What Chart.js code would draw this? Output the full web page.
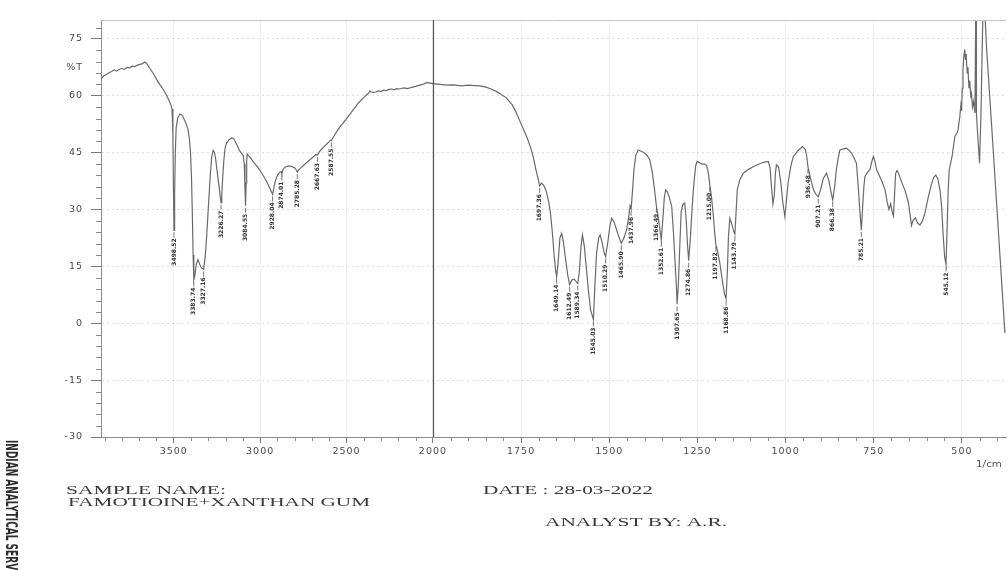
<!DOCTYPE html>
<html>
<head>
<meta charset="utf-8">
<title>FTIR - Famotidine + Xanthan gum</title>
<script src="https://cdn.jsdelivr.net/npm/chart.js@4.4.1/dist/chart.umd.min.js"></script>
<style>
  html, body { margin: 0; padding: 0; background: #ffffff; }
  canvas { display: block; }
</style>
</head>
<body>
<canvas id="ftir" width="1008" height="570"></canvas>
<script>
// Spectrum trace: wavenumber (cm-1) and transmittance (%T), high to low wavenumber
const wavenumber = [
  3921, 3905, 3890, 3875, 3860, 3845, 3830, 3815, 3800, 3785, 3770, 3755, 3740, 3725, 3710, 3695,
  3680, 3668, 3658, 3648, 3635, 3620, 3605, 3590, 3575, 3560, 3545, 3530, 3518, 3510, 3505, 3502,
  3498.52, 3495, 3491, 3486, 3478, 3465, 3452, 3440, 3428, 3418, 3410, 3403, 3397, 3392, 3388,
  3383.74, 3378, 3370, 3360, 3350, 3340, 3327.16, 3318, 3308, 3298, 3288, 3280, 3272, 3265, 3258,
  3250, 3242, 3235, 3230, 3226.27, 3222, 3216, 3210, 3203, 3195, 3180, 3165, 3155, 3145, 3132,
  3120, 3108, 3098, 3092, 3088, 3084.55, 3081, 3078, 3075, 3068, 3055, 3040, 3025, 3010, 2995,
  2980, 2965, 2950, 2940, 2933, 2928.04, 2922, 2915, 2905, 2895, 2884, 2878, 2874.01, 2868, 2858,
  2845, 2830, 2815, 2800, 2792, 2785.28, 2778, 2765, 2750, 2735, 2720, 2705, 2690, 2678, 2667.63,
  2658, 2645, 2630, 2615, 2600, 2593, 2587.55, 2578, 2565, 2550, 2535, 2520, 2500, 2480, 2463,
  2445, 2430, 2415, 2400, 2385, 2372, 2365, 2358, 2345, 2330, 2315, 2300, 2285, 2270, 2255, 2240,
  2225, 2210, 2195, 2180, 2165, 2150, 2133, 2118, 2100, 2085, 2070, 2055, 2040, 2030, 2020, 2010,
  2000, 1980, 1960, 1942, 1920, 1900, 1880, 1867, 1850, 1835, 1819, 1805, 1791, 1775, 1763, 1750,
  1740, 1730, 1722, 1716, 1708, 1701, 1697.36, 1692, 1686, 1679, 1672, 1666, 1661, 1656, 1652,
  1649.14, 1645, 1640, 1635, 1630, 1624, 1618, 1612.49, 1606, 1600, 1594, 1589.34, 1585, 1580,
  1576, 1571, 1565, 1559, 1553, 1545.03, 1541, 1536, 1530, 1526, 1520, 1514, 1510.29, 1504, 1498,
  1493, 1486, 1479, 1472, 1465.90, 1458, 1451, 1445, 1441, 1437.96, 1434, 1430, 1425, 1418, 1408,
  1400, 1392, 1385, 1378, 1372, 1366.49, 1362, 1357, 1352.61, 1348, 1344, 1340, 1335, 1329, 1323,
  1318, 1313, 1309, 1307.65, 1304, 1300, 1296, 1291, 1286, 1282, 1278, 1274.86, 1270, 1265, 1260,
  1255, 1251, 1245, 1238, 1230, 1224, 1219, 1215.00, 1210, 1205, 1201, 1197.82, 1193, 1186, 1179,
  1173, 1168.86, 1165, 1162, 1158, 1152, 1147, 1143.79, 1140, 1137, 1130, 1120, 1105, 1092, 1080,
  1070, 1060, 1049, 1044, 1040, 1036, 1032, 1029, 1026, 1020, 1014, 1008, 1002, 997, 993, 985,
  978, 965, 952, 944, 940, 936.48, 930, 921, 914, 907.21, 900, 893, 884, 877, 871, 866.38, 861,
  856, 851, 846, 836, 827, 820, 813, 806, 799, 794, 789, 785.21, 782, 778, 775, 768, 761, 755,
  751, 746, 742, 737, 733, 725, 718, 712, 707, 702, 698, 694, 691, 688, 684, 680, 672, 662, 652,
  646, 643, 638, 632, 626, 619, 612, 605, 596, 587, 580, 574, 568, 562, 557, 553, 549, 545.12,
  542, 539, 536, 528, 520, 514, 511, 506, 503, 501, 499, 497, 495, 492, 490, 488, 485, 483, 480,
  478, 475, 473, 470, 467, 463, 461, 460, 459, 455, 450, 446, 443, 440, 436, 430, 420, 407, 395, 378
];
const transmittance = [
  64.5, 65.2, 65.6, 66.1, 66.4, 66.8, 66.5, 67.0, 67.2, 67.0, 67.5, 67.4, 67.8, 67.7, 68.1, 68.3,
  68.5, 68.9, 68.6, 67.9, 67.0, 66.0, 64.8, 63.6, 62.6, 61.6, 60.4, 59.0, 57.8, 56.5, 50.0, 36.0,
  24.5, 34.0, 45.0, 51.5, 54.0, 55.2, 54.9, 53.8, 52.6, 51.2, 48.8, 45.0, 38.0, 28.0, 18.0,
  11.5, 12.5, 15.5, 16.8, 15.6, 14.6, 14.2, 17.5, 24.0, 32.0, 39.5, 44.0, 45.6, 45.2, 43.5,
  40.5, 37.5, 35.0, 33.0, 31.8, 34.0, 39.0, 43.0, 46.2, 47.5, 48.4, 48.9, 48.8, 48.0, 46.8,
  45.6, 44.8, 44.3, 42.0, 36.0, 31.0, 37.0, 42.5, 44.6, 44.2, 43.6, 42.6, 41.8, 40.9, 39.9,
  38.8, 37.6, 36.2, 35.2, 34.5, 34.0, 35.3, 37.0, 38.5, 39.4, 39.9, 40.0, 39.5, 40.5, 41.1,
  41.4, 41.5, 41.3, 41.0, 40.5, 39.9, 40.4, 41.0, 41.6, 42.2, 42.8, 43.4, 44.0, 44.5, 44.4,
  45.2, 45.9, 46.6, 47.3, 47.9, 48.3, 48.2, 49.0, 50.0, 51.0, 52.0, 52.8, 54.0, 55.2, 56.2,
  57.3, 58.2, 58.9, 59.6, 60.2, 60.7, 61.3, 61.0, 60.9, 61.0, 61.3, 61.2, 61.5, 61.4, 61.7, 61.8,
  61.6, 61.9, 61.8, 62.0, 62.1, 61.9, 62.1, 62.3, 62.5, 62.7, 62.9, 63.1, 63.4, 63.5, 63.4, 63.3,
  63.2, 63.0, 62.8, 62.9, 62.6, 62.8, 62.7, 62.6, 62.3, 61.8, 61.1, 60.3, 59.4, 57.6, 55.4, 52.6,
  50.5, 48.2, 46.0, 44.0, 40.5, 37.8, 36.2, 37.0, 36.4, 34.9, 32.2, 28.5, 23.5, 17.5, 13.8,
  12.3, 16.0, 22.5, 23.7, 21.5, 17.0, 12.8, 10.2, 11.4, 11.7, 11.0, 10.5, 13.5, 20.5,
  23.3, 20.5, 14.5, 8.5, 3.5, 1.0, 9.5, 18.5, 22.6, 23.3, 21.2, 18.4, 17.6, 21.5, 25.8,
  27.7, 26.6, 24.6, 22.6, 21.1, 22.6, 24.6, 28.0, 31.0, 30.2, 35.0, 40.5, 44.3, 45.7, 45.3,
  44.9, 44.2, 43.1, 39.8, 35.5, 31.0, 28.5, 25.2, 22.0, 27.5, 33.0, 35.2, 34.6, 33.0, 30.8,
  24.0, 15.5, 8.5, 5.0, 10.5, 20.5, 29.5, 31.4, 31.7, 27.5, 20.5, 16.5, 22.5, 30.5, 37.0,
  41.5, 42.7, 42.4, 42.0, 42.0, 41.6, 39.6, 36.5, 33.2, 28.5, 23.8, 20.8, 19.0, 15.6, 11.0,
  7.6, 6.5, 14.0, 23.0, 27.7, 26.0, 24.2, 23.5, 30.0, 35.2, 37.8, 39.6, 40.6, 41.3, 41.8,
  42.2, 42.5, 42.7, 41.0, 36.0, 31.5, 33.8, 39.5, 41.8, 41.3, 37.5, 32.0, 28.1, 33.0, 37.0, 41.5,
  44.0, 45.5, 46.6, 45.8, 44.0, 41.2, 38.5, 35.2, 34.0, 33.4, 35.5, 38.2, 39.6, 37.5, 34.5, 32.5, 36.0,
  40.5, 43.5, 45.7, 46.0, 46.2, 45.6, 44.9, 43.6, 42.2, 36.0, 29.0, 24.6, 30.0, 36.0, 38.7, 39.8, 40.5, 42.8,
  44.0, 42.5, 40.5, 39.5, 38.7, 37.0, 35.2, 32.0, 30.0, 31.5, 29.5, 28.3, 34.0, 39.5, 40.3, 39.6, 37.5, 35.2, 32.0,
  28.0, 25.8, 27.2, 27.8, 26.5, 25.9, 27.0, 29.0, 33.0, 36.5, 38.5, 39.1, 38.0, 35.0, 30.0, 23.0, 17.5, 15.5,
  25.0, 35.0, 40.5, 44.0, 49.3, 50.2, 51.0, 54.5, 57.5, 56.0, 62.0, 66.9, 70.0, 72.2, 69.5, 71.0, 66.0, 67.6, 62.0,
  64.0, 60.0, 60.7, 57.0, 58.5, 55.5, 80.0, 84.0, 55.4, 49.3, 42.2, 55.0, 70.0, 84.0, 84.0, 72.5, 58.3, 39.5, 22.0, -2.6
];

// Picked absorption bands (labelled on the trace)
const peakWavenumbers = [
  3498.52, 3383.74, 3327.16, 3226.27, 3084.55, 2928.04, 2874.01, 2785.28, 2667.63, 2587.55,
  1697.36, 1649.14, 1612.49, 1589.34, 1545.03, 1510.29, 1465.90, 1437.96, 1366.49, 1352.61,
  1307.65, 1274.86, 1215.00, 1197.82, 1168.86, 1143.79, 936.48, 907.21, 866.38, 785.21, 545.12
];

// Axis ticks
const xTickWavenumbers = [3500, 3000, 2500, 2000, 1750, 1500, 1250, 1000, 750, 500];
const yTickValues = [-30, -15, 0, 15, 30, 45, 60, 75];
const yUnitLabel = '%T';
const xUnitLabel = '1/cm';

// Report header / footer text
const sampleHeading = 'SAMPLE NAME:';
const sampleName = 'FAMOTIOINE+XANTHAN GUM';
const dateText = 'DATE : 28-03-2022';
const analystText = 'ANALYST BY: A.R.';
const labText = 'INDIAN ANALYTICAL SERVICES';

// The instrument plots 2000 cm-1 and above at half the scale of the lower range
const SCALE_BREAK = 2000;
const HIGH_RANGE_RATIO = 0.49;
const toAxis = w => (w <= SCALE_BREAK ? w : SCALE_BREAK + (w - SCALE_BREAK) * HIGH_RANGE_RATIO);
const fromAxis = u => (u <= SCALE_BREAK ? u : SCALE_BREAK + (u - SCALE_BREAK) / HIGH_RANGE_RATIO);

const X_LOW = 375, X_HIGH = 3921;
const Y_UNIT_POS = 67.5;

const points = wavenumber.map((w, i) => ({ x: toAxis(w), y: transmittance[i] }));

function stretchedText(ctx, text, x, baseline, font, width) {
  ctx.save();
  ctx.font = font;
  const w = ctx.measureText(text).width;
  ctx.translate(x, baseline);
  ctx.scale(width / w, 1);
  ctx.fillText(text, 0, 0);
  ctx.restore();
}

const decorations = {
  id: 'decorations',
  beforeDraw(chart) {
    chart.ctx.letterSpacing = '1px';
  },
  beforeDatasetsDraw(chart) {
    chart.ctx.letterSpacing = '0px';
  },
  afterDatasetsDraw(chart) {
    const { ctx, scales: { x, y } } = chart;
    ctx.save();
    ctx.font = 'bold 6px "DejaVu Sans"';
    ctx.fillStyle = '#333';
    ctx.strokeStyle = '#555';
    ctx.lineWidth = 0.8;
    peakWavenumbers.forEach(p => {
      const i = wavenumber.findIndex(w => Math.abs(w - p) < 1e-6);
      if (i < 0) return;
      const px = x.getPixelForValue(toAxis(p));
      const py = y.getPixelForValue(transmittance[i]);
      ctx.beginPath();
      ctx.moveTo(px, py + 2);
      ctx.lineTo(px, py + 7);
      ctx.stroke();
      ctx.save();
      ctx.translate(px, py + 8);
      ctx.rotate(-Math.PI / 2);
      ctx.textAlign = 'right';
      ctx.textBaseline = 'middle';
      ctx.fillText(p.toFixed(2), 0, 0);
      ctx.restore();
    });
    ctx.restore();
  },
  afterDraw(chart) {
    const { ctx, chartArea: a, scales: { x, y } } = chart;
    ctx.save();
    ctx.letterSpacing = '0px';

    // minor ticks on the y axis (every 3 %T)
    ctx.strokeStyle = '#8a8a8a';
    ctx.lineWidth = 1;
    ctx.beginPath();
    for (let v = -27; v <= 78; v += 3) {
      if (v % 15 === 0) continue;
      const py = Math.round(y.getPixelForValue(v)) + 0.5;
      ctx.moveTo(a.left - 5, py);
      ctx.lineTo(a.left, py);
    }
    // minor ticks on the x axis (100 cm-1 above the break, 50 cm-1 below)
    const minor = [];
    for (let w = 3900; w > SCALE_BREAK; w -= 100) if (w % 500 !== 0) minor.push(w);
    for (let w = 1950; w >= 400; w -= 50) if (w % 250 !== 0) minor.push(w);
    minor.forEach(w => {
      const px = Math.round(x.getPixelForValue(toAxis(w))) + 0.5;
      ctx.moveTo(px, a.bottom);
      ctx.lineTo(px, a.bottom + 4);
    });
    ctx.stroke();

    // frame top and the scale-break line at 2000 cm-1
    ctx.strokeStyle = '#c4c4c4';
    ctx.beginPath();
    ctx.moveTo(a.left, a.top + 0.5);
    ctx.lineTo(a.right, a.top + 0.5);
    ctx.stroke();
    const bx = Math.round(x.getPixelForValue(toAxis(SCALE_BREAK))) + 0.5;
    ctx.strokeStyle = '#555';
    ctx.lineWidth = 1.2;
    ctx.beginPath();
    ctx.moveTo(bx, a.top);
    ctx.lineTo(bx, a.bottom);
    ctx.stroke();

    // unit label under the x axis
    ctx.fillStyle = '#555';
    stretchedText(ctx, xUnitLabel, 976, 467, '8px "DejaVu Sans"', 26);

    // report text
    ctx.fillStyle = '#3a3a3a';
    const serif = '13px "Liberation Serif"';
    stretchedText(ctx, sampleHeading, 66, 494, serif, 160);
    stretchedText(ctx, sampleName, 68, 506, serif, 302);
    stretchedText(ctx, dateText, 483, 494, '12px "Liberation Serif"', 170);
    stretchedText(ctx, analystText, 545, 526, '12px "Liberation Serif"', 182);

    // laboratory name along the left margin
    ctx.save();
    ctx.fillStyle = '#2c2c2c';
    ctx.translate(10, 440);
    ctx.rotate(Math.PI / 2);
    ctx.scale(1, 1.7);
    ctx.font = 'bold 9px "DejaVu Sans"';
    ctx.textAlign = 'left';
    ctx.textBaseline = 'middle';
    ctx.fillText(labText, 0, 0);
    ctx.restore();

    ctx.restore();
  }
};

const tickFont = { family: '"DejaVu Sans"', size: 9.5 };

new Chart(document.getElementById('ftir'), {
  type: 'scatter',
  data: {
    datasets: [{
      data: points,
      showLine: true,
      borderColor: '#6a6a6a',
      borderWidth: 1.2,
      pointRadius: 0,
      tension: 0,
      fill: false
    }]
  },
  options: {
    responsive: false,
    animation: false,
    devicePixelRatio: 1,
    layout: { padding: { top: 20, right: 2, bottom: 103, left: 0 } },
    plugins: { legend: { display: false }, tooltip: { enabled: false } },
    scales: {
      x: {
        type: 'linear',
        reverse: true,
        min: toAxis(X_LOW),
        max: toAxis(X_HIGH),
        afterBuildTicks: s => { s.ticks = xTickWavenumbers.map(w => ({ value: toAxis(w) })); },
        afterFit: s => { s.height = 30; },
        ticks: {
          autoSkip: false,
          maxRotation: 0,
          padding: 3,
          color: '#4a4a4a',
          font: tickFont,
          callback: v => String(Math.round(fromAxis(v)))
        },
        grid: { color: 'rgba(0,0,0,0.06)', tickColor: '#7a7a7a', tickLength: 6 },
        border: { color: '#8a8a8a', width: 1 }
      },
      y: {
        type: 'linear',
        min: -30,
        max: 80,
        afterBuildTicks: s => {
          s.ticks = [...yTickValues, Y_UNIT_POS].sort((p, q) => p - q).map(v => ({ value: v }));
        },
        afterFit: s => { s.width = 101; },
        ticks: {
          autoSkip: false,
          padding: 8,
          color: '#4a4a4a',
          font: tickFont,
          callback: v => (v === Y_UNIT_POS ? yUnitLabel : String(v))
        },
        grid: {
          color: c => (c.tick && c.tick.value === Y_UNIT_POS ? 'rgba(0,0,0,0)' : 'rgba(0,0,0,0.13)'),
          tickColor: c => (c.tick && c.tick.value === Y_UNIT_POS ? 'rgba(0,0,0,0)' : '#7a7a7a'),
          tickLength: 10
        },
        border: { color: '#8a8a8a', width: 1, dash: [2, 3] }
      }
    }
  },
  plugins: [decorations]
});
</script>
</body>
</html>
